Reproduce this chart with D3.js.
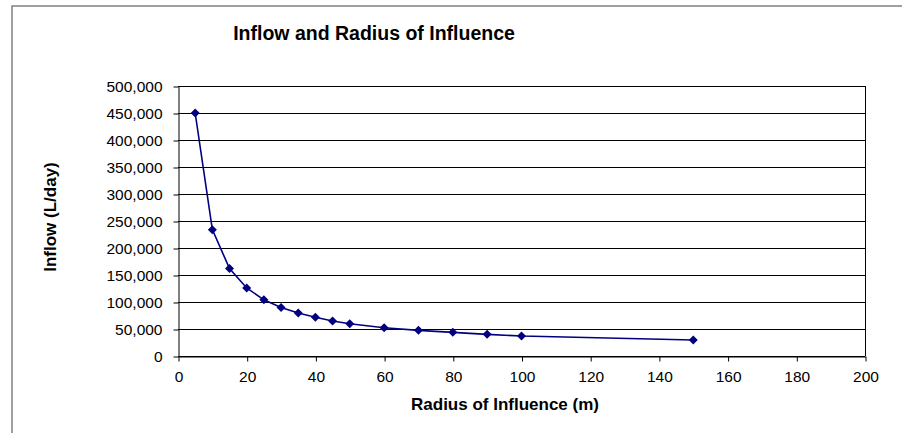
<!DOCTYPE html>
<html>
<head>
<meta charset="utf-8">
<script src="https://cdn.jsdelivr.net/npm/d3@7"></script>
<style>
  body { margin: 0; background: #fff; }
  svg { display: block; font-family: Arial, "Liberation Sans", sans-serif; }
</style>
</head>
<body>
<div id="chart"></div>
<script>
  const radius = [5, 10, 15, 20, 25, 30, 35, 40, 45, 50, 60, 70, 80, 90, 100, 150];
  const inflow = [450000, 234000, 162000, 126000, 104000, 90000, 79500, 71600, 64700, 59800,
    52400, 47500, 43800, 40100, 37000, 29600];
  const xTicks = [0, 20, 40, 60, 80, 100, 120, 140, 160, 180, 200];
  const yTicks = [0, 50000, 100000, 150000, 200000, 250000, 300000, 350000, 400000, 450000, 500000];

  const width = 902;
  const height = 433;
  const plot = { left: 178, right: 865, top: 86, bottom: 356 };

  const svg = d3.select('#chart').append('svg')
    .attr('width', width)
    .attr('height', height);

  // chart frame (runs off the bottom/right of the window)
  svg.append('rect')
    .attr('x', 12).attr('y', 6)
    .attr('width', width + 20).attr('height', height + 20)
    .attr('fill', 'none')
    .attr('stroke', '#808080')
    .attr('stroke-width', 1.5);

  const x = d3.scaleLinear().domain([0, 200]).range([plot.left, plot.right]);
  const y = d3.scaleLinear().domain([0, 500000]).range([plot.bottom, plot.top]);

  // horizontal gridlines
  svg.append('g')
    .selectAll('line')
    .data(yTicks)
    .join('line')
    .attr('x1', plot.left).attr('x2', plot.right)
    .attr('y1', d => Math.round(y(d)) + 0.5).attr('y2', d => Math.round(y(d)) + 0.5)
    .attr('stroke', '#000')
    .attr('stroke-width', 1);

  // right border of plot area
  svg.append('line')
    .attr('x1', plot.right + 0.5).attr('x2', plot.right + 0.5)
    .attr('y1', plot.top).attr('y2', plot.bottom)
    .attr('stroke', '#000');

  const yAxis = svg.append('g')
    .attr('transform', `translate(${plot.left + 0.5},0.5)`)
    .call(d3.axisLeft(y).tickValues(yTicks).tickSize(5).tickSizeOuter(0)
      .tickFormat(d3.format(',')));

  const xAxis = svg.append('g')
    .attr('transform', `translate(0.5,${plot.bottom + 0.5})`)
    .call(d3.axisBottom(x).tickValues(xTicks).tickSize(5).tickSizeOuter(0));

  [xAxis, yAxis].forEach((g) => {
    g.attr('font-size', null).attr('font-family', null);
    g.selectAll('text')
      .style('font-size', '15.5px')
      .attr('fill', '#000');
    g.selectAll('line, path').attr('stroke', '#000');
  });
  yAxis.selectAll('text').attr('x', -16);
  xAxis.selectAll('text').attr('y', 14);

  // series
  const points = radius.map((r, i) => [r, inflow[i]]);
  svg.append('path')
    .datum(points)
    .attr('fill', 'none')
    .attr('stroke', '#000080')
    .attr('stroke-width', 1.6)
    .attr('d', d3.line().x(d => x(d[0])).y(d => y(d[1])));

  svg.append('g')
    .selectAll('path')
    .data(points)
    .join('path')
    .attr('transform', d => `translate(${x(d[0])},${y(d[1])})`)
    .attr('d', 'M0,-4.5L4.5,0L0,4.5L-4.5,0Z')
    .attr('fill', '#000080');

  // titles
  svg.append('text')
    .attr('x', 374).attr('y', 40)
    .attr('text-anchor', 'middle')
    .style('font-size', '19.5px')
    .attr('font-weight', 'bold')
    .text('Inflow and Radius of Influence');

  svg.append('text')
    .attr('x', 505).attr('y', 410)
    .attr('text-anchor', 'middle')
    .style('font-size', '17px')
    .attr('font-weight', 'bold')
    .text('Radius of Influence (m)');

  svg.append('text')
    .attr('transform', 'translate(56,217) rotate(-90)')
    .attr('text-anchor', 'middle')
    .style('font-size', '17px')
    .attr('font-weight', 'bold')
    .text('Inflow (L/day)');
</script>
</body>
</html>
